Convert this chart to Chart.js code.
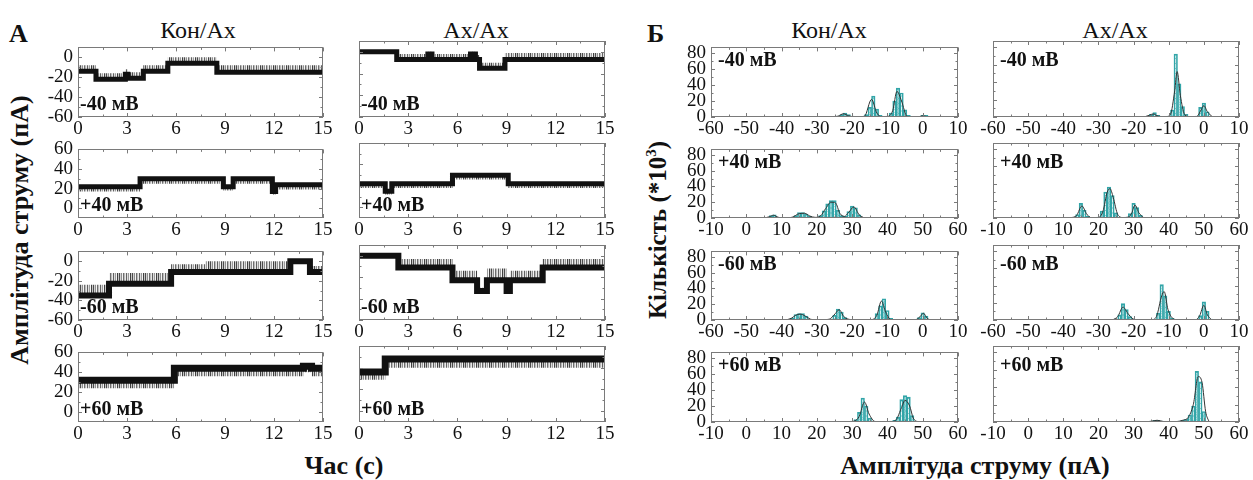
<!DOCTYPE html>
<html>
<head>
<meta charset="utf-8">
<script src="https://cdn.jsdelivr.net/npm/chart.js@4/dist/chart.umd.min.js"></script>
<style>
  body { margin: 0; background: #fff; width: 1253px; height: 480px; position: relative; overflow: hidden;
         font-family: "Liberation Serif", "Tinos", "Times New Roman", "DejaVu Serif", serif; color: #111; }
  canvas { position: absolute; }
  .t { position: absolute; white-space: nowrap; line-height: 1; }
  .b { font-weight: bold; }
  .v { transform: translate(-50%, -50%) rotate(-90deg); }
  .c { transform: translate(-50%, -50%); }
</style>
</head>
<body>

<div class="t b" style="left:9px;top:21px;font-size:26px">А</div>
<div class="t b" style="left:647px;top:21px;font-size:26px">Б</div>
<div class="t c" style="left:198px;top:30px;font-size:24px">Кон/Ах</div>
<div class="t c" style="left:476px;top:30px;font-size:24px">Ах/Ах</div>
<div class="t c" style="left:829px;top:30px;font-size:24px">Кон/Ах</div>
<div class="t c" style="left:1115px;top:30px;font-size:24px">Ах/Ах</div>
<div class="t b v" style="left:20px;top:230px;font-size:26px">Амплітуда струму (пА)</div>
<div class="t b c" style="left:344px;top:466px;font-size:26px">Час (с)</div>
<div class="t b v" style="left:657px;top:230px;font-size:25px">Кількість (*10<sup style="font-size:15px">3</sup>)</div>
<div class="t b c" style="left:975px;top:466px;font-size:26px">Амплітуда струму (пА)</div>

<script>
// tick labels
const timeTicks = [0, 3, 6, 9, 12, 15];
const negCurrentTicks = [0, -20, -40, -60];
const posCurrentTicks = [60, 40, 20, 0];
const negAmpTicks = [-60, -50, -40, -30, -20, -10, 0, 10];
const posAmpTicks = [-10, 0, 10, 20, 30, 40, 50, 60];
const countTicks = [0, 20, 40, 60, 80];

// --- current traces: step start time (s), level (pA), spike edge (pA) ---
const konM40Time  = [0, 1.1, 2.9, 3.05, 4.0, 5.5, 8.5, 15];
const konM40Level = [-14, -22, -17, -21, -14, -6, -15, -15];
const konM40Spike = [-8, -16, -12, -15, -8, 0, -8, -8];

const axM40Time  = [0, 2.3, 4.2, 4.45, 6.8, 7.1, 7.35, 8.9, 15];
const axM40Level = [0, -7, -2, -7, -2, -7, -15, -7, -7];
const axM40Spike = [1, -2, 0, -2, 0, -3, -10, -1, -1];

const konP40Time  = [0, 3.8, 8.9, 9.5, 11.9, 12.1, 15];
const konP40Level = [22, 30, 22, 30, 17, 24, 24];
const konP40Spike = [17, 25, 18, 25, 14, 19, 19];

const axP40Time  = [0, 1.6, 2.0, 5.7, 9.1, 15];
const axP40Level = [22, 15, 22, 30, 22, 22];
const axP40Spike = [18, 12, 18, 26, 18, 18];

const konM60Time  = [0, 1.9, 5.7, 7.8, 13.0, 14.2, 15];
const konM60Level = [-35, -23, -11, -11, 0, -11, -11];
const konM60Spike = [-24, -12, -3, 0, 1, -5, -5];

const axM60Time  = [0, 2.4, 5.7, 7.2, 7.8, 9.0, 9.2, 11.2, 15];
const axM60Level = [0, -11, -23, -33, -23, -33, -23, -11, -11];
const axM60Spike = [1, -3, -14, -30, -12, -28, -14, -3, -3];

const konP60Time  = [0, 5.9, 13.8, 14.3, 15];
const konP60Level = [32, 44, 46, 44, 44];
const konP60Spike = [24, 36, 40, 36, 36];

const axP60Time  = [0, 1.6, 15];
const axP60Level = [36, 48, 48];
const axP60Spike = [29, 40, 40];

// --- histograms: [bin centre pA, count *10^3] and fitted curve points ---
const konM40Hist = [[-25,0.3],[-24,1],[-23,3],[-22,5],[-21,3],[-20,1],[-19,0.3],[-18,0.3],[-17,0.5],[-16,3],[-15,12],[-14,26],[-13,10],[-12,2],[-11,0.5],[-10,1],[-9,5],[-8,20],[-7,36],[-6,30],[-5,9],[-4,2],[-3,0.5],[-2,0.3],[-1,0.5],[0,2],[1,2],[2,0.3]];
const konM40Fit = [[-26,0],[-24,1],[-22.5,4],[-21,1.5],[-19,0],[-16.5,1],[-14.5,22],[-13,5],[-11.5,0],[-10,0.5],[-8.5,8],[-7.3,32],[-6,20],[-4.5,1],[-3,0],[-1,0.5],[0,1.5],[1.5,0]];

const axM40Hist = [[-17,0.3],[-16,1],[-15,3],[-14,5],[-13,2],[-12,0.5],[-11,0.3],[-10,1],[-9,8],[-8,72],[-7,38],[-6,12],[-5,3],[-4,0.5],[-3,0.3],[-2,1],[-1,11],[0,16],[1,6],[2,0.3]];
const axM40Fit = [[-17,0],[-15.5,2],[-14.5,3.5],[-13,1],[-11,0],[-9.5,3],[-8.3,30],[-7.6,52],[-6.7,25],[-5.5,3],[-4,0],[-2,0.5],[-0.8,8],[0,13],[1,6],[2.5,0]];

const konP40Hist = [[5,0.3],[6,1],[7,3],[8,4],[9,1],[10,0.3],[11,0.3],[12,0.3],[13,1],[14,3],[15,7],[16,7],[17,5],[18,2],[19,1],[20,1],[21,3],[22,9],[23,18],[24,22],[25,22],[26,10],[27,3],[28,2],[29,8],[30,15],[31,13],[32,4],[33,1],[34,0.3]];
const konP40Fit = [[5,0],[6.5,1.5],[7.7,3.5],[9,1],[10.5,0],[13,1],[15,5.5],[16.5,6],[18,2.5],[19.5,0.8],[21,2.5],[22.5,12],[24,20],[25.3,19],[26.5,6],[27.8,2],[29,7],[30.5,14],[32,4],[33.5,0]];

const axP40Hist = [[12,0.3],[13,1],[14,4],[15,17],[16,9],[17,2],[18,0.3],[19,0.3],[20,1],[21,8],[22,30],[23,36],[24,26],[25,6],[26,1],[27,0.3],[28,1],[29,5],[30,17],[31,12],[32,3],[33,0.3]];
const axP40Fit = [[12,0],[13.8,3],[15.3,14],[16.6,5],[18,0],[20,0.5],[21.3,8],[22.5,30],[23.3,34],[24.2,24],[25.5,4],[27,0.5],[28.5,1],[29.5,6],[30.4,15],[31.5,6],[33,0]];

const konM60Hist = [[-38,0.3],[-37,2],[-36,7],[-35,8],[-34,8],[-33,5],[-32,1],[-31,0.5],[-30,0.3],[-29,0.3],[-28,0.3],[-27,0.5],[-26,1],[-25,6],[-24,14],[-23,10],[-22,3],[-21,1],[-20,0.3],[-19,0.3],[-18,0.3],[-17,0.3],[-16,0.3],[-15,0.5],[-14,1],[-13,8],[-12,18],[-11,27],[-10,12],[-9,2],[-8,0.5],[-7,0.3],[-6,0.3],[-2,0.5],[-1,3],[0,9],[1,5],[2,0.3]];
const konM60Fit = [[-39,0],[-37.3,2],[-36,6],[-34.8,7.5],[-33.3,5],[-31.8,1],[-30,0],[-26.5,1],[-24.8,8],[-23.7,13],[-22.3,4],[-20.5,0.5],[-19,0],[-14.5,0.5],[-13,6],[-11.7,24],[-10.5,10],[-9,0.5],[-7,0],[-2,0.5],[-0.8,4],[0.2,8.5],[1.3,2],[2.5,0]];

const axM60Hist = [[-35,0.3],[-34,0.5],[-33,0.5],[-32,0.3],[-26,0.3],[-25,1],[-24,6],[-23,19],[-22,12],[-21,4],[-20,1],[-19,0.3],[-15,0.3],[-14,1],[-13,8],[-12,41],[-11,28],[-10,10],[-9,2],[-8,0.3],[-2,0.3],[-1,5],[0,21],[1,10],[2,1]];
const axM60Fit = [[-26,0],[-24.5,4],[-23,15],[-21.7,8],[-20,1],[-18,0],[-15,0],[-13.5,4],[-12,28],[-11.3,33],[-10.2,12],[-8.5,1],[-7,0],[-2.5,0],[-1.2,5],[0,17],[1,6],[2.3,0]];

const konP60Hist = [[27,0.3],[28,0.5],[29,0.5],[30,1],[31,3],[32,12],[33,30],[34,20],[35,5],[36,1],[37,0.3],[38,0.3],[40,0.3],[41,1],[42,2],[43,6],[44,28],[45,33],[46,31],[47,8],[48,1]];
const konP60Fit = [[28,0],[30.5,1],[32,7],[33.5,25],[34.8,10],[36.5,0.5],[38,0],[41,0.5],[42.5,3],[44,18],[45,27],[46.3,20],[47.3,5],[48.5,0]];

const axP60Hist = [[34,0.3],[35,1],[36,2],[37,2],[38,1],[39,0.3],[40,0.3],[41,0.3],[42,0.5],[43,1],[44,2],[45,3],[46,8],[47,18],[48,58],[49,46],[50,12],[51,1]];
const axP60Fit = [[33,0],[35,0.8],[36.7,2],[38.5,0.5],[40,0],[42,0.3],[44,2],[45.5,5],[47,20],[48.4,52],[49.5,45],[50.5,12],[51.5,0]];

const voltLabels = ['-40 мВ', '+40 мВ', '-60 мВ', '+60 мВ'];

// --- layout ---
const colLeft = [78, 359, 711, 993];
const colWidth = [245, 246, 247, 246];
const rowTop = [41, 143, 245, 346];
const rowHeight = [76, 75, 75, 76];
const PADL = 50, PADT = 10, PADR = 18, PADB = 26;
const FONT = '"Liberation Serif", "Tinos", "Times New Roman", "DejaVu Serif", serif';
const TEAL = 'rgb(50,165,168)';

const framePlugin = {
  id: 'frame',
  afterDatasetsDraw(chart) {
    const { ctx, chartArea: a, scales } = chart;
    ctx.save();
    ctx.strokeStyle = '#7a7a7a';
    ctx.lineWidth = 1;
    ctx.beginPath();
    const mark = (scale, horiz) => {
      const vals = scale.ticks.map(t => t.value).sort((p, q) => p - q);
      vals.forEach((v, i) => {
        const list = [[v, 4]];
        if (i < vals.length - 1) list.push([(v + vals[i + 1]) / 2, 2.5]);
        list.forEach(([val, len]) => {
          const p = Math.round(scale.getPixelForValue(val)) + 0.5;
          if (horiz) {
            ctx.moveTo(p, a.bottom); ctx.lineTo(p, a.bottom - len);
            ctx.moveTo(p, a.top); ctx.lineTo(p, a.top + len);
          } else {
            ctx.moveTo(a.left, p); ctx.lineTo(a.left + len, p);
            ctx.moveTo(a.right, p); ctx.lineTo(a.right - len, p);
          }
        });
      });
    };
    mark(scales.x, true);
    mark(scales.y, false);
    ctx.stroke();
    ctx.strokeRect(Math.round(a.left) + 0.5, Math.round(a.top) + 0.5,
                   Math.round(a.width) - 1, Math.round(a.height) - 1);
    ctx.restore();
  }
};

// cross hatch used inside the histogram bars
function hatch() {
  const c = document.createElement('canvas');
  c.width = 5; c.height = 5;
  const g = c.getContext('2d');
  g.strokeStyle = 'rgba(50,165,168,0.45)';
  g.lineWidth = 0.7;
  g.beginPath();
  g.moveTo(0, 5); g.lineTo(5, 0);
  g.moveTo(0, 0); g.lineTo(5, 5);
  g.stroke();
  return g.createPattern(c, 'repeat');
}

// vertical hairline texture standing in for the recording noise
const hairAlpha = [0.8, 0.2, 0.5, 0.05, 0.65, 0.3, 0.1, 0.7, 0.15, 0.45, 0.05, 0.85, 0.25];
function noiseTexture() {
  const c = document.createElement('canvas');
  c.width = hairAlpha.length; c.height = 2;
  const g = c.getContext('2d');
  hairAlpha.forEach((a, i) => {
    g.fillStyle = 'rgba(30,30,30,' + a + ')';
    g.fillRect(i, 0, 1, 2);
  });
  return g.createPattern(c, 'repeat');
}

function axisOpts(min, max, ticks, showLabels, isX) {
  return {
    type: 'linear', min, max, offset: false,
    grid: { display: false, drawTicks: false }, border: { display: false },
    afterBuildTicks: s => { s.ticks = ticks.map(v => ({ value: v })); },
    afterFit: s => { if (isX) s.height = PADB; else s.width = PADL; },
    ticks: { display: showLabels, color: '#111', padding: isX ? 1 : 5, maxRotation: 0, autoSkip: false,
             font: { family: FONT, size: 19 } }
  };
}

function makeChart(col, row, config) {
  const cv = document.createElement('canvas');
  cv.width = colWidth[col] + PADL + PADR;
  cv.height = rowHeight[row] + PADT + PADB;
  cv.style.left = (colLeft[col] - PADL) + 'px';
  cv.style.top = (rowTop[row] - PADT) + 'px';
  document.body.appendChild(cv);
  config.options.responsive = false;
  config.options.animation = false;
  config.options.devicePixelRatio = 1;
  config.options.layout = { padding: { left: 0, top: PADT, right: PADR, bottom: 0 } };
  config.options.plugins = { legend: { display: false }, tooltip: { enabled: false } };
  config.plugins = [framePlugin];
  new Chart(cv, config);
}

function addLabel(col, row, text, top) {
  const d = document.createElement('div');
  d.className = 't b';
  d.style.fontSize = '20px';
  d.style.lineHeight = '20px';
  d.style.left = (colLeft[col] + (top ? 7 : 2)) + 'px';
  d.style.top = (top ? rowTop[row] + 8 : rowTop[row] + rowHeight[row] - 24) + 'px';
  d.textContent = text;
  document.body.appendChild(d);
}

const pts = (xs, ys) => xs.map((x, i) => ({ x, y: ys[i] }));
const pairs = arr => arr.map(([x, y]) => ({ x, y }));

function tracePanel(col, row, time, level, spike, yMin, yMax, yTicks, band) {
  makeChart(col, row, {
    type: 'line',
    data: { datasets: [
      { data: pts(time, level), stepped: true, borderColor: '#111', borderWidth: band,
        pointRadius: 0, fill: false, clip: 0 },
      { data: pts(time, spike), stepped: true, borderWidth: 0, borderColor: 'rgba(0,0,0,0)',
        backgroundColor: noiseTexture(), pointRadius: 0, fill: '-1', clip: 0 }
    ] },
    options: { scales: {
      x: axisOpts(0, 15, timeTicks, true, true),
      y: axisOpts(yMin, yMax, yTicks, col === 0, false)
    } }
  });
  addLabel(col, row, voltLabels[row], false);
}

function histPanel(col, row, hist, fit, xMin, xMax, xTicks) {
  makeChart(col, row, {
    type: 'bar',
    data: { datasets: [
      { type: 'line', data: pairs(fit), borderColor: '#333', borderWidth: 1, pointRadius: 0,
        cubicInterpolationMode: 'monotone', fill: false, clip: 0 },
      { type: 'bar', data: pairs(hist), backgroundColor: hatch(), borderColor: TEAL, borderWidth: 1,
        barPercentage: 1, categoryPercentage: 1, clip: 0 }
    ] },
    options: { scales: {
      x: axisOpts(xMin, xMax, xTicks, true, true),
      y: axisOpts(0, 87, countTicks, col === 2, false)
    } }
  });
  addLabel(col, row, voltLabels[row], true);
}

tracePanel(0, 0, konM40Time, konM40Level, konM40Spike, -60, 10, negCurrentTicks, 5);
tracePanel(1, 0, axM40Time, axM40Level, axM40Spike, -60, 10, negCurrentTicks, 5);
tracePanel(0, 1, konP40Time, konP40Level, konP40Spike, -10, 60, posCurrentTicks, 5);
tracePanel(1, 1, axP40Time, axP40Level, axP40Spike, -10, 60, posCurrentTicks, 5);
tracePanel(0, 2, konM60Time, konM60Level, konM60Spike, -60, 10, negCurrentTicks, 6);
tracePanel(1, 2, axM60Time, axM60Level, axM60Spike, -60, 10, negCurrentTicks, 6);
tracePanel(0, 3, konP60Time, konP60Level, konP60Spike, -10, 60, posCurrentTicks, 7);
tracePanel(1, 3, axP60Time, axP60Level, axP60Spike, -10, 60, posCurrentTicks, 7);

histPanel(2, 0, konM40Hist, konM40Fit, -60, 10, negAmpTicks);
histPanel(3, 0, axM40Hist, axM40Fit, -60, 10, negAmpTicks);
histPanel(2, 1, konP40Hist, konP40Fit, -10, 60, posAmpTicks);
histPanel(3, 1, axP40Hist, axP40Fit, -10, 60, posAmpTicks);
histPanel(2, 2, konM60Hist, konM60Fit, -60, 10, negAmpTicks);
histPanel(3, 2, axM60Hist, axM60Fit, -60, 10, negAmpTicks);
histPanel(2, 3, konP60Hist, konP60Fit, -10, 60, posAmpTicks);
histPanel(3, 3, axP60Hist, axP60Fit, -10, 60, posAmpTicks);
</script>
</body>
</html>
